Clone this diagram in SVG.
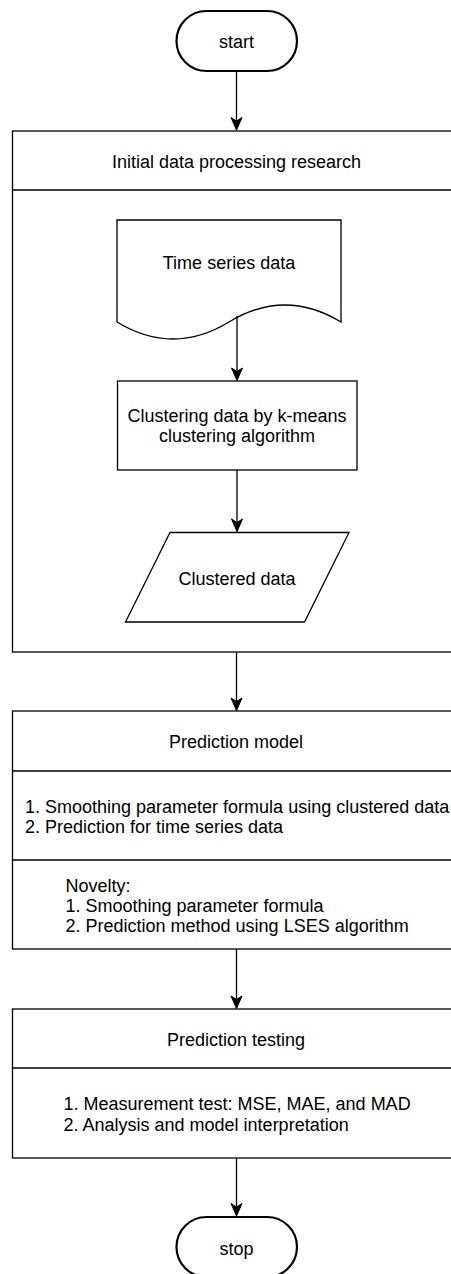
<svg xmlns="http://www.w3.org/2000/svg" width="451" height="1274" viewBox="0 0 451 1274">
<style>
text{font-family:"Liberation Sans",Arial,sans-serif;font-size:18px;fill:#000}
.c{text-anchor:middle}
.box{fill:#fff;stroke:#000;stroke-width:1.3}
.term{fill:#fff;stroke:#000;stroke-width:2.2}
.edge{fill:none;stroke:#000;stroke-width:1.3}
</style>
<defs>
<marker id="a" markerUnits="userSpaceOnUse" markerWidth="14" markerHeight="16" viewBox="-7 -14 14 16" refX="0" refY="0" orient="0">
<path d="M0,0 L-5.5,-12.5 L0,-9 L5.5,-12.5 Z" fill="#000" stroke="#000" stroke-width="1"/>
</marker>
</defs>
<g id="start">
<rect class="term" x="176.5" y="11" width="120.5" height="60" rx="30" ry="30"/>
<text class="c" x="236.5" y="48">start</text>
</g>
<g id="initial-processing">
<rect class="box" x="12.5" y="131" width="450" height="521"/>
<line class="box" x1="12.5" y1="190" x2="462.5" y2="190"/>
<text class="c" x="236.5" y="168">Initial data processing research</text>
</g>
<g id="time-series">
<path class="box" d="M117,220 H341 V322 Q285,288 229,322 Q173,356 117,322 Z"/>
<text class="c" x="229" y="269">Time series data</text>
</g>
<g id="clustering">
<rect class="box" x="117.5" y="381" width="239.5" height="89"/>
<text class="c" x="237" y="422">Clustering data by k-means</text>
<text class="c" x="237" y="442">clustering algorithm</text>
</g>
<g id="clustered-data">
<path class="box" d="M170,532.5 H349 L304.5,622 H125.5 Z"/>
<text class="c" x="237" y="585">Clustered data</text>
</g>
<g id="prediction-model">
<rect class="box" x="12.5" y="711" width="450" height="238"/>
<line class="box" x1="12.5" y1="771" x2="462.5" y2="771"/>
<line class="box" x1="12.5" y1="860" x2="462.5" y2="860"/>
<text class="c" x="236" y="748">Prediction model</text>
<text x="25" y="813">1. Smoothing parameter formula using clustered data</text>
<text x="25" y="833">2. Prediction for time series data</text>
<text x="65.5" y="892">Novelty:</text>
<text x="65.5" y="912">1. Smoothing parameter formula</text>
<text x="65.5" y="932">2. Prediction method using LSES algorithm</text>
</g>
<g id="prediction-testing">
<rect class="box" x="12.5" y="1009" width="450" height="149"/>
<line class="box" x1="12.5" y1="1068" x2="462.5" y2="1068"/>
<text class="c" x="236" y="1046">Prediction testing</text>
<text x="63.5" y="1110">1. Measurement test: MSE, MAE, and MAD</text>
<text x="63.5" y="1131">2. Analysis and model interpretation</text>
</g>
<g id="stop">
<rect class="term" x="176.5" y="1217" width="120.5" height="60" rx="30" ry="30"/>
<text class="c" x="236.5" y="1255">stop</text>
</g>
<g id="connectors">
<path class="edge" d="M236.5,71 V130" marker-end="url(#a)"/>
<path class="edge" d="M237,316 V380.5" marker-end="url(#a)"/>
<path class="edge" d="M237,470 V531.5" marker-end="url(#a)"/>
<path class="edge" d="M236.5,652 V710.5" marker-end="url(#a)"/>
<path class="edge" d="M236.5,949 V1008.5" marker-end="url(#a)"/>
<path class="edge" d="M236.5,1158 V1216" marker-end="url(#a)"/>
</g>
</svg>
